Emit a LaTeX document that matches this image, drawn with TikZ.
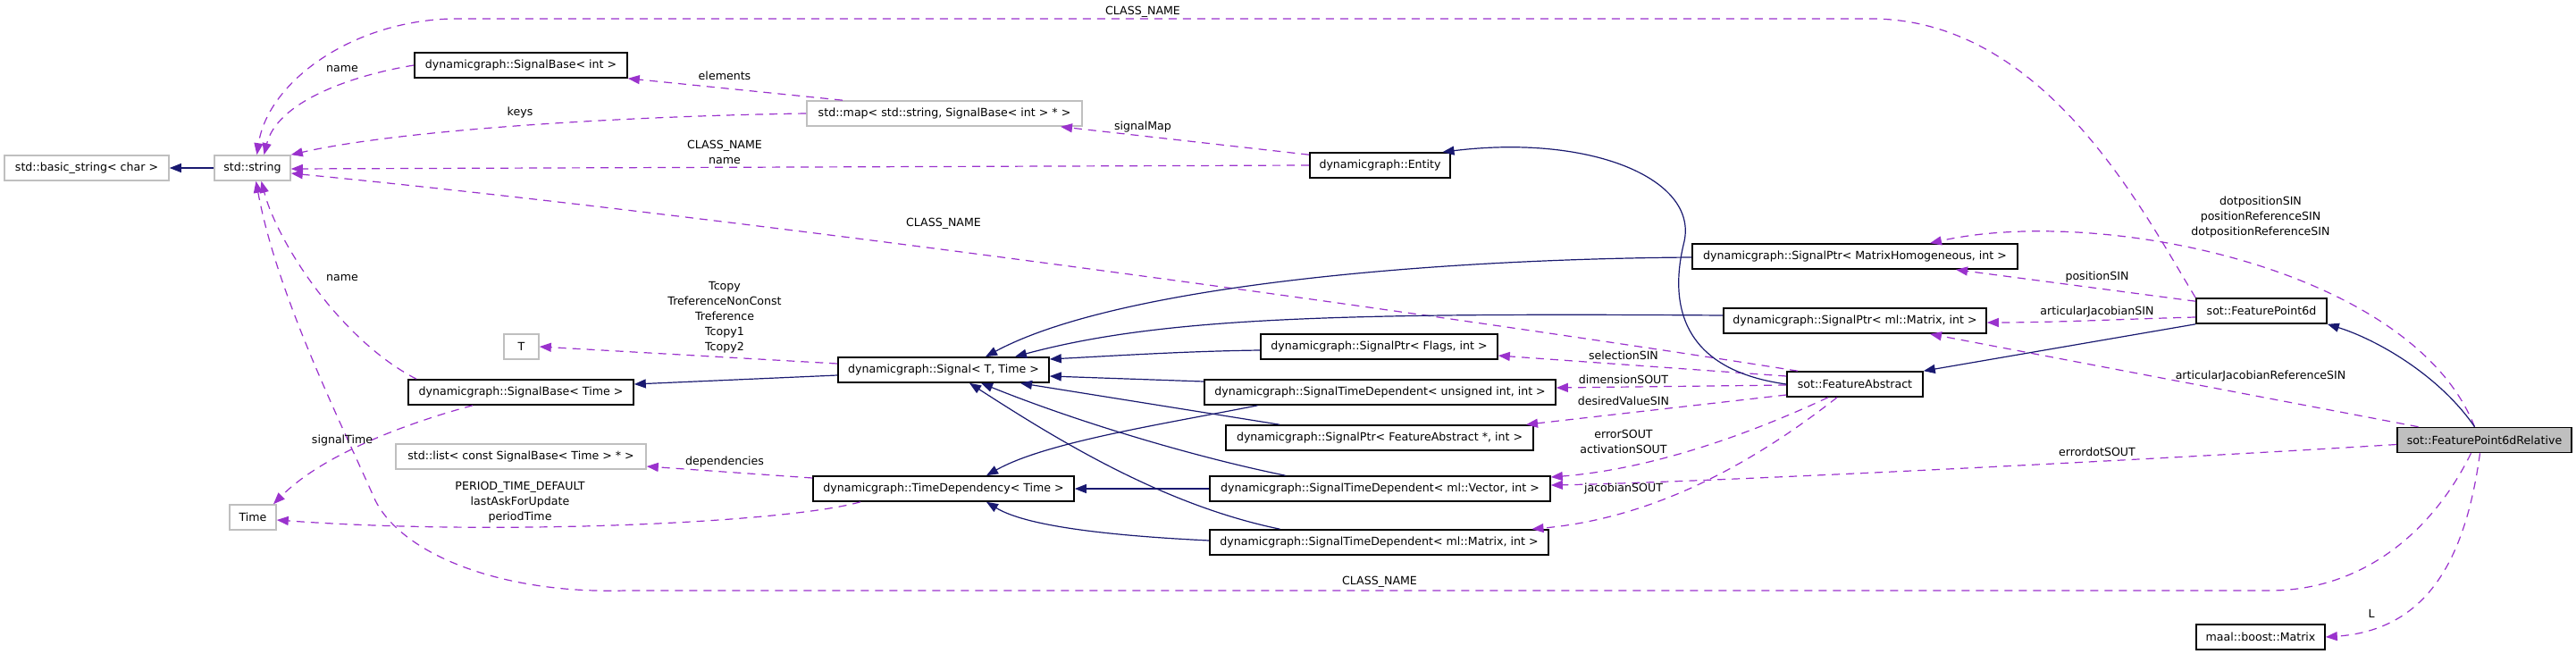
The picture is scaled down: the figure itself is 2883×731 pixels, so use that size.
\documentclass[tikz,border=0pt]{standalone}
\usepackage{fontspec}
\setmainfont{DejaVu Sans}
\usetikzlibrary{arrows.meta}
\definecolor{inhblue}{HTML}{191970}
\definecolor{usepurple}{HTML}{9A32CD}
\definecolor{boxgray}{HTML}{BFBFBF}
\newcommand\dgfont{\fontsize{12.6}{17}\selectfont}
\begin{document}
\begin{tikzpicture}[x=1pt,y=-1pt,
  box/.style={draw=black, fill=white, line width=1.6pt, minimum height=28pt, inner sep=0pt, font=\dgfont},
  gbox/.style={box, draw=boxgray},
  lab/.style={font=\dgfont, align=center, inner sep=0pt},
  inh/.style={draw=inhblue, line width=1.2pt, -{Triangle[length=13pt,width=10pt]}},
  use/.style={draw=usepurple, line width=1.2pt, dash pattern=on 9pt off 7pt, -{Triangle[length=13pt,width=10pt]}}]
\fill[white] (0,0) rectangle (2883,731);
\useasboundingbox (0,0) rectangle (2883,731);
% classes
\node[gbox, minimum width=184pt] (bstr) at (97,188) {std::basic\_string< char >};
\node[gbox, minimum width=85pt] (str) at (282.5,188) {std::string};
\node[box, minimum width=238pt] (sbint) at (583,73) {dynamicgraph::SignalBase< int >};
\node[gbox, minimum width=308pt] (map) at (1057,127) {std::map< std::string, SignalBase< int > * >};
\node[box, minimum width=157pt] (entity) at (1544.5,185) {dynamicgraph::Entity};
\node[gbox, minimum width=39pt] (T) at (583.5,388) {T};
\node[box, minimum width=252pt] (sbtime) at (583,439) {dynamicgraph::SignalBase< Time >};
\node[gbox, minimum width=280pt] (list) at (583,511) {std::list< const SignalBase< Time > * >};
\node[gbox, minimum width=52pt] (time) at (283,579) {Time};
\node[box, minimum width=236pt] (signal) at (1056,414) {dynamicgraph::Signal< T, Time >};
\node[box, minimum width=292pt] (timedep) at (1056,547) {dynamicgraph::TimeDependency< Time >};
\node[box, minimum width=364pt] (mathom) at (2076,287) {dynamicgraph::SignalPtr< MatrixHomogeneous, int >};
\node[box, minimum width=294pt] (mlmat) at (2076,359) {dynamicgraph::SignalPtr< ml::Matrix, int >};
\node[box, minimum width=265pt] (flags) at (1543.5,388) {dynamicgraph::SignalPtr< Flags, int >};
\node[box, minimum width=393pt] (unsig) at (1544.5,439) {dynamicgraph::SignalTimeDependent< unsigned int, int >};
\node[box, minimum width=344pt] (fabsptr) at (1544,490) {dynamicgraph::SignalPtr< FeatureAbstract *, int >};
\node[box, minimum width=381pt] (vec) at (1544.5,547) {dynamicgraph::SignalTimeDependent< ml::Vector, int >};
\node[box, minimum width=379pt] (mat) at (1543.5,607) {dynamicgraph::SignalTimeDependent< ml::Matrix, int >};
\node[box, minimum width=146pt] (fp6d) at (2531,348) {sot::FeaturePoint6d};
\node[box, minimum width=152pt] (fabs) at (2076,430) {sot::FeatureAbstract};
\node[box, fill=boxgray, minimum width=195pt] (fp6dr) at (2780.5,492.5) {sot::FeaturePoint6dRelative};
\node[box, minimum width=144pt] (maal) at (2530,713) {maal::boost::Matrix};
% usage edges
\draw[use] (fp6d.north west) .. controls (2400,240) and (2290,21) .. (2094,21) -- (520,21) .. controls (400,18) and (300,90) .. ([xshift=5pt]str.north);
\draw[use] (sbint.west) .. controls (390,85) and (310,115) .. ([xshift=13pt]str.north);
\draw[use] ([xshift=-114pt]map.north) -- (sbint.south east);
\draw[use] (map.west) .. controls (700,130) and (450,145) .. (str.north east);
\draw[use] (entity.west) -- ([yshift=-1pt]str.east);
\draw[use] ([xshift=-64pt]fabs.north) .. controls (1600,350) and (800,240) .. ([yshift=-6pt]str.east);
\draw[use] ([yshift=-3pt]entity.north west) -- ([xshift=130pt]map.south);
\draw[use] ([yshift=7pt]signal.west) -- (T.east);
\draw[use] ([yshift=12pt]timedep.west) -- ([yshift=-11pt]list.east);
\draw[use] ([xshift=-93pt]timedep.south) .. controls (880,585) and (560,600) .. ([yshift=-3pt]time.east);
\draw[use] ([xshift=-117pt]sbtime.north) .. controls (380,380) and (310,270) .. ([xshift=10pt]str.south);
\draw[use] ([xshift=-54pt]sbtime.south) .. controls (450,475) and (360,510) .. ([xshift=23pt]time.north);
\draw[use] ([xshift=-15pt]fp6dr.south) .. controls (2720,600) and (2640,661) .. (2540,661) -- (700,661) .. controls (560,665) and (450,620) .. (420,560) .. controls (380,470) and (310,330) .. ([xshift=4pt]str.south);
\draw[use] ([yshift=-4pt]fp6d.north west) -- ([xshift=113pt]mathom.south);
\draw[use] ([yshift=-7pt]fp6d.west) .. controls (2380,357) and (2300,361) .. ([yshift=-2pt]mlmat.east);
\draw[use] ([yshift=9pt]fabs.west) -- ([yshift=-10pt]flags.east);
\draw[use] ([yshift=-1pt]fabs.west) -- ([yshift=5pt]unsig.east);
\draw[use] ([yshift=-12pt]fabs.west) -- ([xshift=164pt]fabsptr.north);
\draw[use] ([xshift=-30pt]fabs.south) .. controls (1960,485) and (1850,525) .. ([yshift=13pt]vec.east);
\draw[use] ([xshift=-20pt]fabs.south) .. controls (1960,520) and (1850,580) .. ([xshift=171pt]mat.north);
\draw[use] ([xshift=-11pt]fp6dr.north) .. controls (2700,300) and (2350,230) .. ([xshift=84pt]mathom.north);
\draw[use] ([xshift=-74pt]fp6dr.north) -- ([xshift=84pt]mlmat.south);
\draw[use] ([yshift=-5pt]fp6dr.west) .. controls (2400,515) and (1900,540) .. ([yshift=4pt]vec.east);
\draw[use] ([xshift=-5pt]fp6dr.south) .. controls (2760,620) and (2720,705) .. (maal.east);
% inheritance edges
\draw[inh] (str.west) -- (bstr.east);
\draw[inh] ([yshift=-6pt]signal.west) -- ([yshift=9pt]sbtime.east);
\draw[inh] ([yshift=-1pt]mathom.west) .. controls (1600,290) and (1250,320) .. ([xshift=47pt]signal.north);
\draw[inh] ([yshift=6pt]mlmat.west) .. controls (1500,350) and (1300,355) .. ([xshift=80pt]signal.north);
\draw[inh] ([yshift=-4pt]flags.west) .. controls (1330,393) and (1250,398) .. ([yshift=12pt]signal.east);
\draw[inh] ([yshift=12pt]unsig.west) -- ([yshift=-7pt]signal.east);
\draw[inh] ([xshift=-112pt]fabsptr.north) -- ([xshift=86pt]signal.south);
\draw[inh] ([xshift=-106pt]vec.north) .. controls (1330,510) and (1200,470) .. ([xshift=42pt]signal.south);
\draw[inh] ([xshift=-111pt]mat.north) .. controls (1300,565) and (1180,490) .. ([xshift=29pt]signal.south);
\draw[inh] ([xshift=-137pt]unsig.south) .. controls (1300,475) and (1170,495) .. ([xshift=48pt]timedep.north);
\draw[inh] (vec.west) -- (timedep.east);
\draw[inh] ([yshift=2pt]mat.west) .. controls (1250,600) and (1150,590) .. ([xshift=48pt]timedep.south);
\draw[inh] (fabs.west) .. controls (1890,415) and (1865,350) .. (1885,270) .. controls (1900,200) and (1780,150) .. ([xshift=70pt]entity.north);
\draw[inh] (fp6d.south west) -- (fabs.north east);
\draw[inh] ([xshift=-11pt]fp6dr.north) .. controls (2730,420) and (2660,380) .. (fp6d.south east);
% labels
\node[lab] (l1) at (1279,13) {CLASS\_NAME};
\node[lab] (l2) at (383,77) {name};
\node[lab] (l3) at (811,85) {elements};
\node[lab] (l4) at (582,126) {keys};
\node[lab] (l5) at (1279,142) {signalMap};
\node[lab] (l6) at (811,170) {CLASS\_NAME\\name};
\node[lab] (l7) at (1056,250) {CLASS\_NAME};
\node[lab] (l8) at (2530,243) {dotpositionSIN\\positionReferenceSIN\\dotpositionReferenceSIN};
\node[lab] (l9) at (2347,310) {positionSIN};
\node[lab] (l10) at (383,311) {name};
\node[lab] (l11) at (811,355) {Tcopy\\TreferenceNonConst\\Treference\\Tcopy1\\Tcopy2};
\node[lab] (l12) at (2347,349) {articularJacobianSIN};
\node[lab] (l13) at (1817,398) {selectionSIN};
\node[lab] (l14) at (2530,421) {articularJacobianReferenceSIN};
\node[lab] (l15) at (1817,425) {dimensionSOUT};
\node[lab] (l16) at (1817,449) {desiredValueSIN};
\node[lab] (l17) at (1817,494) {errorSOUT\\activationSOUT};
\node[lab] (l18) at (383,493) {signalTime};
\node[lab] (l19) at (2347,506) {errordotSOUT};
\node[lab] (l20) at (811,517) {dependencies};
\node[lab] (l21) at (582,562) {PERIOD\_TIME\_DEFAULT\\lastAskForUpdate\\periodTime};
\node[lab] (l22) at (1817,547) {jacobianSOUT};
\node[lab] (l23) at (1544,651) {CLASS\_NAME};
\node[lab] (l24) at (2654,687) {L};
\end{tikzpicture}
\end{document}
